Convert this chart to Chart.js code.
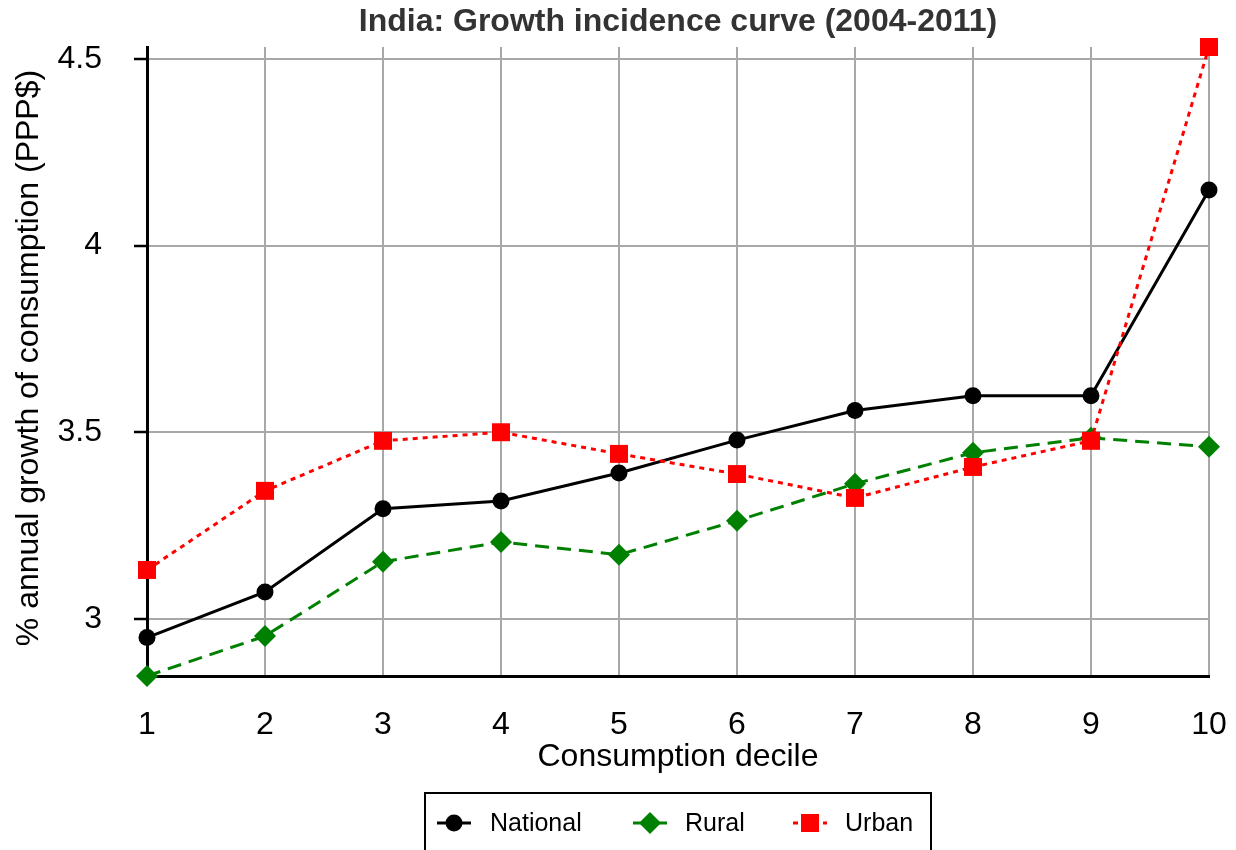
<!DOCTYPE html>
<html>
<head>
<meta charset="utf-8">
<script src="https://cdn.jsdelivr.net/npm/chart.js@4.4.1/dist/chart.umd.min.js"></script>
<style>
  html, body { margin: 0; padding: 0; background: #fff; }
  #wrap { width: 1236px; height: 850px; }
</style>
</head>
<body>
<div id="wrap"><canvas id="chart" width="1236" height="850"></canvas></div>
<script>
// values
const deciles = ['1', '2', '3', '4', '5', '6', '7', '8', '9', '10'];
const national = [2.950, 3.072, 3.295, 3.316, 3.391, 3.479, 3.558, 3.598, 3.598, 4.149];
const rural    = [2.847, 2.954, 3.153, 3.206, 3.172, 3.263, 3.362, 3.445, 3.485, 3.461];
const urban    = [3.131, 3.343, 3.477, 3.500, 3.442, 3.388, 3.324, 3.407, 3.477, 4.532];
const yTicks = [3, 3.5, 4, 4.5];
const seriesNames = ['National', 'Rural', 'Urban'];

const FONT = '"Liberation Sans", Arial, sans-serif';
const allValues = national.concat(rural, urban);

const datasets = [
  {
    label: seriesNames[0], data: national,
    borderColor: '#000000', backgroundColor: '#000000',
    borderWidth: 3, pointStyle: 'circle', pointRadius: 8.5,
    order: 2
  },
  {
    label: seriesNames[1], data: rural,
    borderColor: '#008000', backgroundColor: '#008000',
    borderWidth: 3, borderDash: [14, 8], pointStyle: 'rectRot', pointRadius: 11,
    order: 1
  },
  {
    label: seriesNames[2], data: urban,
    borderColor: '#ff0000', backgroundColor: '#ff0000',
    borderWidth: 3, borderDash: [5, 5], pointStyle: 'rect', pointRadius: 12.7,
    order: 0
  }
];
datasets.forEach(d => {
  d.pointBorderWidth = 0;
  d.pointHoverRadius = d.pointRadius;
  d.tension = 0;
  d.clip = false;
});

// title, axis titles and the boxed legend at the bottom
const decorations = {
  id: 'decorations',
  afterDraw(chart) {
    const ctx = chart.ctx;
    const area = chart.chartArea;
    const cx = (area.left + area.right) / 2;
    ctx.save();
    ctx.textAlign = 'center';
    ctx.textBaseline = 'middle';

    ctx.fillStyle = '#333333';
    ctx.font = 'bold 32px ' + FONT;
    ctx.fillText('India: Growth incidence curve (2004-2011)', cx, 22);

    ctx.fillStyle = '#000000';
    ctx.font = '32px ' + FONT;
    ctx.fillText('Consumption decile', cx, 757);

    ctx.save();
    ctx.translate(29, 358);
    ctx.rotate(-Math.PI / 2);
    ctx.fillText('% annual growth of consumption (PPP$)', 0, 0);
    ctx.restore();

    // legend box
    ctx.strokeStyle = '#000000';
    ctx.lineWidth = 2;
    ctx.strokeRect(425, 793, 506, 80);

    const items = [
      { x: 437, tx: 490 },
      { x: 633, tx: 685 },
      { x: 793, tx: 845 }
    ];
    const ly = 823;
    ctx.font = '25px ' + FONT;
    ctx.textAlign = 'left';
    chart.data.datasets.forEach((ds, i) => {
      const it = items[i];
      ctx.strokeStyle = ds.borderColor;
      ctx.lineWidth = ds.borderWidth;
      ctx.setLineDash(ds.borderDash || []);
      ctx.beginPath();
      ctx.moveTo(it.x, ly);
      ctx.lineTo(it.x + 34, ly);
      ctx.stroke();
      ctx.setLineDash([]);
      ctx.fillStyle = ds.backgroundColor;
      Chart.helpers.drawPoint(ctx, {
        pointStyle: ds.pointStyle, radius: ds.pointRadius, rotation: 0, borderWidth: 0
      }, it.x + 17, ly);
      ctx.fillStyle = '#000000';
      ctx.fillText(ds.label, it.tx, ly + 1);
    });
    ctx.restore();
  }
};

new Chart(document.getElementById('chart'), {
  type: 'line',
  data: { labels: deciles, datasets: datasets },
  options: {
    responsive: false,
    animation: false,
    layout: { padding: { top: 47, right: 27, left: 0, bottom: 0 } },
    plugins: {
      legend: { display: false },
      title: { display: false },
      tooltip: { enabled: false }
    },
    scales: {
      x: {
        type: 'category',
        offset: false,
        grid: { color: '#a8a8a8', lineWidth: 2, drawTicks: false, offset: false },
        border: { color: '#000000', width: 3 },
        ticks: {
          color: '#000000', font: { family: FONT, size: 32 },
          padding: 30, maxRotation: 0, autoSkip: false
        },
        afterFit(scale) {
          scale.height = 174;
          scale.paddingLeft = 0;
          scale.paddingRight = 0;
        }
      },
      y: {
        type: 'linear',
        min: Math.min(...allValues),
        max: Math.max(...allValues),
        afterBuildTicks(scale) { scale.ticks = yTicks.map(v => ({ value: v })); },
        grid: { color: '#a8a8a8', lineWidth: 2, tickLength: 13, tickColor: '#000000', tickWidth: 2.5 },
        border: { color: '#000000', width: 3 },
        ticks: {
          color: '#000000', font: { family: FONT, size: 32 },
          padding: 32,
          callback: v => String(v)
        },
        afterFit(scale) {
          scale.width = 147;
          scale.paddingTop = 0;
          scale.paddingBottom = 0;
        }
      }
    }
  },
  plugins: [decorations]
});
</script>
</body>
</html>
